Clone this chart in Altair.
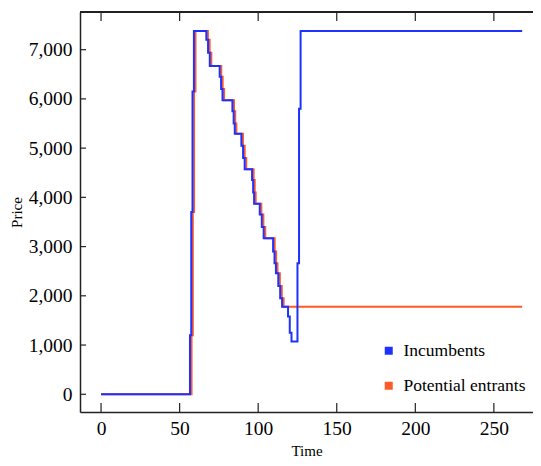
import altair as alt
import pandas as pd

# ---- data ----
inc_time = [0, 56.6, 57.4, 58.2, 59.1, 67.0, 68.1, 69.2, 75.5, 76.4, 77.3, 83.6, 84.4, 85.1,
            89.3, 90.4, 91.4, 96.1, 96.8, 97.4, 101.0, 102.3, 103.5, 109.5, 110.4, 111.3,
            112.8, 114.0, 115.2, 119.0, 120.1, 121.2, 125.0, 126.0, 127.0, 268]
inc_price = [0, 1200, 3700, 6150, 7380, 7200, 6935, 6670, 6450, 6200, 5970, 5750, 5500, 5290,
             5050, 4800, 4570, 4350, 4100, 3870, 3650, 3400, 3170, 2900, 2663, 2460,
             2200, 1950, 1780, 1580, 1250, 1070, 2663, 5800, 7380, 7380]

ent_time = [0, 57.6, 58.4, 59.2, 60.1, 68.0, 69.1, 70.2, 76.5, 77.4, 78.3, 84.6, 85.4, 86.1,
            90.3, 91.4, 92.4, 97.1, 97.8, 98.4, 102.0, 103.3, 104.5, 110.5, 111.4, 112.3,
            113.8, 115.0, 116.2, 268]
ent_price = [0, 1200, 3700, 6150, 7380, 7200, 6935, 6670, 6450, 6200, 5970, 5750, 5500, 5290,
             5050, 4800, 4570, 4350, 4100, 3870, 3650, 3400, 3170, 2900, 2663, 2460,
             2200, 1950, 1780, 1780]

series_names = ["Incumbents", "Potential entrants"]
series_colors = ["#1e32ff", "#ff5a28"]

x_tick_values = [0, 50, 100, 150, 200, 250]
y_tick_values = [0, 1000, 2000, 3000, 4000, 5000, 6000, 7000]

W, H = 453, 400
FONT = "Times New Roman, Liberation Serif, serif"
FRAME = "#222222"

inc_df = pd.DataFrame({"Time": inc_time, "Price": inc_price, "Series": series_names[0]})
ent_df = pd.DataFrame({"Time": ent_time, "Price": ent_price, "Series": series_names[1]})
xt_df = pd.DataFrame({"Time": x_tick_values})
yt_df = pd.DataFrame({"Price": y_tick_values})

xscale = alt.Scale(domain=[-13.4, 274.9], nice=False, zero=False)
yscale = alt.Scale(domain=[-360, 7765], nice=False, zero=False)

color = alt.Color(
    "Series:N",
    scale=alt.Scale(domain=series_names, range=series_colors),
    legend=alt.Legend(
        title=None, orient="none", legendX=300, legendY=330,
        symbolType="square", symbolSize=9, symbolStrokeWidth=5,
        symbolOpacity=1,
        labelFont=FONT, labelFontSize=17.5, labelColor="black",
        labelOffset=6, rowPadding=11, labelLimit=300,
    ),
)

x_enc = alt.X("Time:Q", scale=xscale,
              axis=alt.Axis(values=x_tick_values, title="Time", grid=False, domain=True,
                            domainColor=FRAME, domainWidth=1.5,
                            ticks=False, tickSize=0, labelPadding=7, titlePadding=6,
                            labelFont=FONT, labelFontSize=19.5, labelColor="black",
                            titleFont=FONT, titleFontSize=15, titleFontWeight="normal",
                            titleColor="black"))
y_enc = alt.Y("Price:Q", scale=yscale,
              axis=alt.Axis(values=y_tick_values, format=",d", title="Price", grid=False,
                            domain=True, domainColor=FRAME, domainWidth=1.5,
                            ticks=False, tickSize=0, labelPadding=8,
                            titlePadding=4, labelFont=FONT, labelFontSize=19.5,
                            labelColor="black", titleFont=FONT, titleFontSize=15,
                            titleFontWeight="normal", titleColor="black"))

ent_line = alt.Chart(ent_df).mark_line(interpolate="step-after", strokeWidth=2).encode(
    x=x_enc, y=y_enc, color=color)
inc_line = alt.Chart(inc_df).mark_line(interpolate="step-after", strokeWidth=2).encode(
    x=alt.X("Time:Q", scale=xscale), y=alt.Y("Price:Q", scale=yscale), color=color)

bottom_ticks = alt.Chart(xt_df).mark_rule(color=FRAME, strokeWidth=1.2).encode(
    x=alt.X("Time:Q", scale=xscale), y=alt.value(H), y2=alt.value(H - 9))
top_ticks = alt.Chart(xt_df).mark_rule(color=FRAME, strokeWidth=1.2).encode(
    x=alt.X("Time:Q", scale=xscale), y=alt.value(0), y2=alt.value(9))
left_ticks = alt.Chart(yt_df).mark_rule(color=FRAME, strokeWidth=1.2).encode(
    y=alt.Y("Price:Q", scale=yscale), x=alt.value(0), x2=alt.value(6))
top_frame = alt.Chart(xt_df).mark_rule(color=FRAME, strokeWidth=1.5).encode(
    x=alt.value(0), x2=alt.value(W), y=alt.value(0))

chart = alt.layer(ent_line, inc_line, bottom_ticks, top_ticks, left_ticks, top_frame).properties(
    width=W, height=H,
    autosize=alt.AutoSizeParams(type="none"),
    padding={"left": 72, "top": 4, "right": 0, "bottom": 46},
    background="white",
).configure_view(stroke=None)

chart.save("out.html", embed_options={"renderer": "svg", "actions": False})
